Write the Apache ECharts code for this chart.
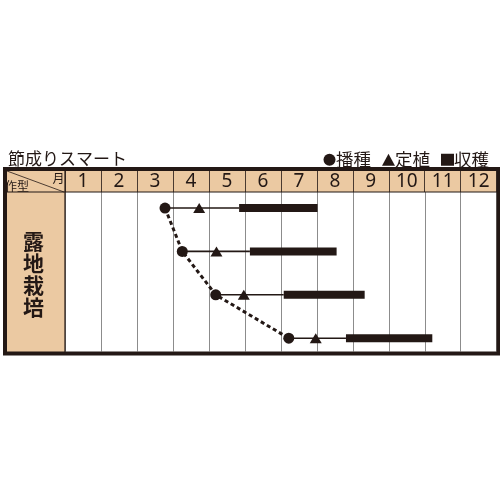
<!DOCTYPE html>
<html>
<head>
<meta charset="utf-8">
<script src="https://cdn.jsdelivr.net/npm/echarts@6/dist/echarts.min.js"></script>
<style>
html,body{margin:0;padding:0;background:#fff;}
#c{width:500px;height:500px;}
</style>
</head>
<body>
<div id="c"></div>
<script>
// Month labels (header)
const months = ['1','2','3','4','5','6','7','8','9','10','11','12'];
// Row index of each sowing schedule
const rows = [0, 1, 2, 3];
// Values in months, 0 = start of January
const sowing       = [2.78, 3.26, 4.19, 6.22];
const planting     = [3.73, 4.21, 4.97, 6.97];
const harvestStart = [4.84, 5.14, 6.08, 7.81];
const harvestEnd   = [7.02, 7.55, 8.33, 10.21];
const cropType = '露地栽培';
const titleText = '節成りスマート';
const seriesNames = ['播種', '定植', '収穫'];

const ink = '#231815';
const beige = '#ebc9a2';
const jp = "'Noto Sans CJK JP', sans-serif";

const chart = echarts.init(document.getElementById('c'));

const harvestData = rows.map((r, i) => [r, sowing[i], harvestStart[i], harvestEnd[i]]);

chart.setOption({
  animation: false,
  backgroundColor: '#fff',
  title: {
    text: titleText, left: 3, top: 145,
    textStyle: { fontFamily: jp, fontSize: 17, fontWeight: 'normal', color: ink }
  },
  legend: {
    right: 6, top: 146, itemWidth: 13, itemHeight: 12, itemGap: 11,
    textStyle: { fontFamily: jp, fontSize: 17.5, color: ink, padding: [0, 0, 0, -5] },
    data: [
      { name: seriesNames[0], icon: 'circle' },
      { name: seriesNames[1], icon: 'triangle' },
      { name: seriesNames[2], icon: 'rect' }
    ],
    selectedMode: false
  },
  grid: [
    { left: 65, right: 3.3, top: 192, bottom: 148.5 },
    { left: 65, right: 3.3, top: 171, height: 21 }
  ],
  xAxis: [
    {
      gridIndex: 0, type: 'value', min: 0, max: 12, interval: 1,
      axisLine: { show: false }, axisTick: { show: false }, axisLabel: { show: false },
      splitLine: { show: true, lineStyle: { color: '#8c8c8c', width: 1 } }
    },
    {
      gridIndex: 1, type: 'category', data: months, position: 'top', boundaryGap: true,
      axisLine: { show: false }, axisTick: { show: false },
      axisLabel: {
        inside: true, margin: 11, verticalAlign: 'middle', interval: 0,
        fontFamily: "'Noto Sans', sans-serif", fontSize: 19, color: ink
      },
      splitLine: { show: true, interval: 0, lineStyle: { color: '#4a3a30', width: 1 } }
    }
  ],
  yAxis: [
    { gridIndex: 0, type: 'value', inverse: true, min: -0.369, max: 3.306, show: false, splitLine: { show: false } },
    { gridIndex: 1, type: 'value', show: false, splitLine: { show: false } }
  ],
  graphic: [
    { type: 'rect', z: -10, shape: { x: 5, y: 169, width: 493, height: 184 }, style: { fill: beige } },
    { type: 'rect', z: -9, shape: { x: 65, y: 192, width: 433, height: 161 }, style: { fill: '#fff' } },
    { type: 'line', z: 50, shape: { x1: 5, y1: 192, x2: 497, y2: 192 }, style: { stroke: ink, lineWidth: 1.2 } },
    { type: 'line', z: 50, shape: { x1: 65, y1: 170, x2: 65, y2: 352 }, style: { stroke: ink, lineWidth: 1.2 } },
    { type: 'line', z: 50, shape: { x1: 7, y1: 171, x2: 64, y2: 192 }, style: { stroke: ink, lineWidth: 0.8 } },
    { type: 'text', z: 50, style: { text: '作型', x: 5, y: 186, verticalAlign: 'middle', font: "12px 'Noto Sans CJK JP'", fill: ink } },
    { type: 'text', z: 50, style: { text: '月', x: 58.5, y: 178, align: 'center', verticalAlign: 'middle', font: "12px 'Noto Sans CJK JP'", fill: ink } },
    { type: 'text', z: 50, style: {
        text: cropType.split('').join('\n'), x: 33.5, y: 274, align: 'center', verticalAlign: 'middle',
        font: "bold 21px 'Noto Sans CJK JP'", lineHeight: 22, fill: ink } },
    { type: 'rect', z: 100, shape: { x: 5, y: 169, width: 493.5, height: 184.5 }, style: { fill: 'none', stroke: ink, lineWidth: 4 } }
  ],
  series: [
    {
      name: 'sowing-trend', type: 'line', xAxisIndex: 0, yAxisIndex: 0,
      data: rows.map((r, i) => [sowing[i], r]),
      symbol: 'none', z: 2, smooth: false,
      lineStyle: { color: ink, width: 3, type: [4, 3], opacity: 1 }
    },
    {
      name: seriesNames[2], type: 'custom', xAxisIndex: 0, yAxisIndex: 0, z: 3,
      itemStyle: { color: ink, opacity: 1 },
      data: harvestData,
      renderItem: function (params, api) {
        const r = api.value(0);
        const p0 = api.coord([api.value(1), r]);
        const p1 = api.coord([api.value(2), r]);
        const p2 = api.coord([api.value(3), r]);
        return {
          type: 'group',
          children: [
            { type: 'line', shape: { x1: p0[0], y1: p0[1], x2: p1[0], y2: p1[1] }, style: { stroke: ink, lineWidth: 1.6 } },
            { type: 'rect', shape: { x: p1[0], y: p1[1] - 4, width: p2[0] - p1[0], height: 8 }, style: { fill: ink } }
          ]
        };
      }
    },
    {
      name: seriesNames[0], type: 'scatter', xAxisIndex: 0, yAxisIndex: 0, z: 5,
      symbol: 'circle', symbolSize: 11, itemStyle: { color: ink, opacity: 1 },
      data: rows.map((r, i) => [sowing[i], r])
    },
    {
      name: seriesNames[1], type: 'scatter', xAxisIndex: 0, yAxisIndex: 0, z: 5,
      symbol: 'triangle', symbolSize: [12, 10], itemStyle: { color: ink, opacity: 1 },
      data: rows.map((r, i) => [planting[i], r])
    }
  ]
});
</script>
</body>
</html>
